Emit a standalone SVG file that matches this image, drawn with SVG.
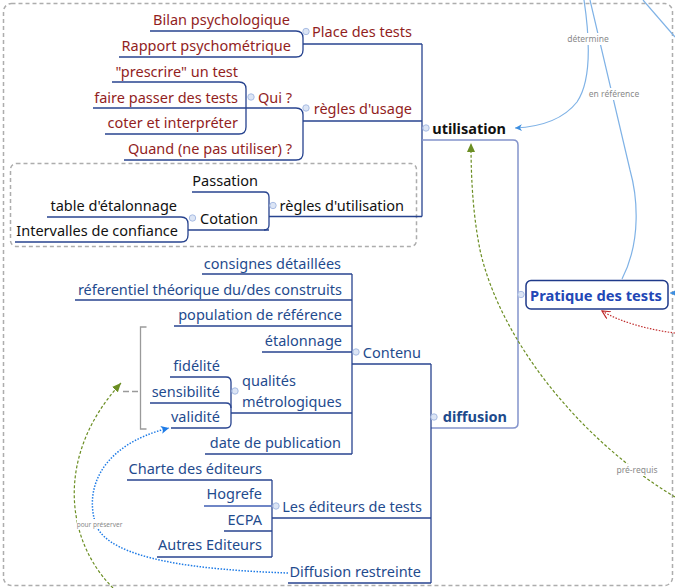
<svg xmlns="http://www.w3.org/2000/svg" width="675" height="588" viewBox="0 0 675 588">
  <style>
    .t{font-family:"Noto Sans","Open Sans",sans-serif;font-size:14.5px}
    .e{text-anchor:end}
    .red{fill:#921e1e}
    .blk{fill:#111}
    .blu{fill:#1f4b8e}
    .b{font-weight:bold}
    .ul{fill:none;stroke:#27438f;stroke-width:1.3}
    .lt{fill:none;stroke:#8494cc;stroke-width:1.5}
    .dot{fill:#dce5f5;stroke:#a9bde4;stroke-width:1}
    .lbl{font-family:"Noto Sans","Open Sans",sans-serif;font-size:8.5px;fill:#8a8a8a;text-anchor:middle}
    .rel{fill:none;stroke:#7fb2e6;stroke-width:1.2}
    .bd{fill:none;stroke:#adadad;stroke-width:1.5;stroke-dasharray:4 3}
  </style>
  <defs>
    <marker id="arrBlue" markerWidth="8" markerHeight="8" refX="7" refY="4" orient="auto" markerUnits="userSpaceOnUse">
      <path d="M0,0.5 L7,4 L0,7.5 L2,4 z" fill="#3d8ee0"/>
    </marker>
    <marker id="arrGreen" markerWidth="10" markerHeight="10" refX="9" refY="5" orient="auto" markerUnits="userSpaceOnUse">
      <path d="M0,1 L9,5 L0,9 z" fill="#6b8e23"/>
    </marker>
    <marker id="arrDot" markerWidth="9" markerHeight="9" refX="8" refY="4.5" orient="auto" markerUnits="userSpaceOnUse">
      <path d="M0,0.5 L8,4.5 L0,8.5 L2,4.5 z" fill="#1e7be6"/>
    </marker>
    <marker id="arrRed" markerWidth="9" markerHeight="9" refX="8" refY="4.5" orient="auto" markerUnits="userSpaceOnUse">
      <path d="M0,0.5 L8,4.5 L0,8.5" fill="none" stroke="#c02a2a" stroke-width="1.2"/>
    </marker>
  </defs>

  <!-- map background and boundaries -->
  <rect x="0" y="0" width="675" height="588" fill="#ffffff"/>
  <rect class="bd" x="3.5" y="3.5" width="669" height="582" rx="8" fill="#ffffff"/>
  <rect class="bd" x="10.5" y="163.5" width="406" height="83" rx="6" fill="#fbfaf5"/>

  <!-- branch connectors -->
  <g id="connectors">
    <path class="ul" d="M296,31 Q303,31 303,38 V50 Q303,57 296,57"/>
    <path class="ul" d="M422,44 V216.5"/>
    <path class="ul" d="M296,108 Q303,108 303,115 V153 Q303,160 296,160"/>
    <path class="ul" d="M239,82 Q246,82 246,89 V127 Q246,134 239,134"/>
    <path class="lt" d="M422,140 H513 Q518,140 518,145 V423 Q518,428 513,428 H431"/>
    <path class="ul" d="M264,192 Q269,192 269,197 V225 Q269,230 264,230"/>
    <path class="ul" d="M181,217 Q188,217 188,224 V235 Q188,242 181,242"/>
    <path class="ul" d="M352,274 V454"/>
    <path class="ul" d="M431,364 V583"/>
    <path class="ul" d="M226,377 Q231,377 231,382 V423 Q231,428 226,428"/>
    <path class="ul" d="M226,403 Q231,403 231,408"/>
    <path class="ul" d="M272,480 V557"/>
    <!-- summary bracket over the metrology topics -->
    <path d="M146.5,327 H140.5 V429 H146.5" fill="none" stroke="#9a9a9a" stroke-width="1.3"/>
    <path d="M123,391.5 H140" fill="none" stroke="#9a9a9a" stroke-width="1.3" stroke-dasharray="6 3"/>

    <!-- relationships -->
    <path class="rel" d="M584,0 C590,40 592,80 577,102 C562,121 537,127 515,128" marker-end="url(#arrBlue)"/>
    <path class="rel" d="M590,0 L630,170 C637,195 642,240 622,279"/>
    <path class="rel" d="M643,0 L675,37"/>
    <path class="rel" d="M675,293 L670,293" stroke="#3d8ee0" marker-end="url(#arrBlue)"/>
    <path d="M675,333 C650,330 620,322 602,311" fill="none" stroke="#c02a2a" stroke-width="1.2" stroke-dasharray="1.5 1.5" marker-end="url(#arrRed)"/>
    <path d="M675,497 C580,440 500,340 480,250 C472,210 471,170 471,143" fill="none" stroke="#6b8e23" stroke-width="1.2" stroke-dasharray="3 2" marker-end="url(#arrGreen)"/>
    <path d="M113,588 C65,540 55,455 121,383" fill="none" stroke="#6b8e23" stroke-width="1.2" stroke-dasharray="3 2" marker-end="url(#arrGreen)"/>
    <path d="M288,573 C200,570 110,560 96,525 C84,490 100,445 169,428" fill="none" stroke="#1e7be6" stroke-width="1.5" stroke-dasharray="1.5 1.5" marker-end="url(#arrDot)"/>

    <rect x="566" y="33" width="44" height="12" fill="#ffffff"/>
    <text class="lbl" x="588" y="42">détermine</text>
    <rect x="588" y="88" width="52" height="12" fill="#ffffff"/>
    <text class="lbl" x="614" y="97">en référence</text>
    <rect x="615" y="464" width="44" height="12" fill="#ffffff"/>
    <text class="lbl" x="637" y="473">pré-requis</text>
    <rect x="77" y="519" width="45" height="9" fill="#ffffff"/>
    <text class="lbl" x="99.5" y="526.5" style="font-size:6.5px">pour préserver</text>
  </g>

  <!-- central topic -->
  <g id="pratique-des-tests">
    <rect x="526" y="280.5" width="142" height="28.5" rx="5" fill="#ffffff" stroke="#1f3a8a" stroke-width="1.5"/>
    <circle class="dot" cx="521" cy="294.5" r="3.2"/>
    <text class="t b" x="596" y="301" text-anchor="middle" style="font-size:14.7px;fill:#2247b6">Pratique des tests</text>
  </g>

  <!-- utilisation branch -->
  <g id="utilisation">
    <circle class="dot" cx="426" cy="128" r="3.2"/>
    <text class="t b blk e" x="506" y="134">utilisation</text>
  </g>
  <g id="place-des-tests">
    <circle class="dot" cx="306" cy="31.5" r="3.2"/>
    <text class="t red e" x="412" y="37">Place des tests</text>
    <path class="ul" d="M303,44 H422"/>
  </g>
  <g id="bilan-psychologique">
    <text class="t red e" x="290" y="25">Bilan psychologique</text>
    <path class="ul" d="M150,31 H296"/>
  </g>
  <g id="rapport-psychometrique">
    <text class="t red e" x="291" y="51">Rapport psychométrique</text>
    <path class="ul" d="M119,57 H296"/>
  </g>
  <g id="regles-usage">
    <circle class="dot" cx="306" cy="108" r="3.2"/>
    <text class="t red e" x="412" y="114">règles d'usage</text>
    <path class="ul" d="M303,121 H422"/>
  </g>
  <g id="qui">
    <circle class="dot" cx="251" cy="97" r="3.2"/>
    <text class="t red e" x="292" y="103">Qui ?</text>
    <path class="ul" d="M246,108 H296"/>
  </g>
  <g id="prescrire">
    <text class="t red e" x="238" y="77">"prescrire" un test</text>
    <path class="ul" d="M112,82 H239"/>
  </g>
  <g id="faire-passer">
    <text class="t red e" x="238" y="103">faire passer des tests</text>
    <path class="ul" d="M93,108 H246"/>
  </g>
  <g id="coter-interpreter">
    <text class="t red e" x="238" y="128">coter et interpréter</text>
    <path class="ul" d="M105,134 H239"/>
  </g>
  <g id="quand">
    <text class="t red e" x="292" y="154">Quand (ne pas utiliser) ?</text>
    <path class="ul" d="M124,160 H296"/>
  </g>
  <g id="regles-utilisation">
    <circle class="dot" cx="273" cy="205.5" r="3.2"/>
    <text class="t blk e" x="404" y="211">règles d'utilisation</text>
    <path class="ul" d="M269,216.5 H422"/>
  </g>
  <g id="passation">
    <text class="t blk e" x="258" y="186">Passation</text>
    <path class="ul" d="M192,192 H264"/>
  </g>
  <g id="cotation">
    <circle class="dot" cx="192.5" cy="218" r="3.2"/>
    <text class="t blk e" x="258" y="224">Cotation</text>
    <path class="ul" d="M188,230 H269"/>
  </g>
  <g id="table-etalonnage">
    <text class="t blk e" x="177" y="211">table d'étalonnage</text>
    <path class="ul" d="M47,217 H181"/>
  </g>
  <g id="intervalles-confiance">
    <text class="t blk e" x="178" y="236">Intervalles de confiance</text>
    <path class="ul" d="M15,242 H181"/>
  </g>

  <!-- diffusion branch -->
  <g id="diffusion">
    <circle class="dot" cx="434" cy="417" r="3.2"/>
    <text class="t b e" x="507" y="422" style="fill:#1d4a8c">diffusion</text>
  </g>
  <g id="contenu">
    <circle class="dot" cx="356" cy="352" r="3.2"/>
    <text class="t blu e" x="421" y="358">Contenu</text>
    <path class="ul" d="M352,364 H431"/>
  </g>
  <g id="consignes">
    <text class="t blu e" x="341" y="269">consignes détaillées</text>
    <path class="ul" d="M202,274 H352"/>
  </g>
  <g id="referentiel">
    <text class="t blu e" x="342" y="295">réferentiel théorique du/des construits</text>
    <path class="ul" d="M75,300 H352"/>
  </g>
  <g id="population">
    <text class="t blu e" x="342" y="320">population de référence</text>
    <path class="ul" d="M174,326 H352"/>
  </g>
  <g id="etalonnage">
    <text class="t blu e" x="342" y="346">étalonnage</text>
    <path class="ul" d="M262,352 H352"/>
  </g>
  <g id="qualites-metrologiques">
    <circle class="dot" cx="235" cy="391" r="3.2"/>
    <text class="t blu" x="242" y="386">qualités</text>
    <text class="t blu" x="242" y="407">métrologiques</text>
    <path class="ul" d="M231,413 H352"/>
  </g>
  <g id="fidelite">
    <text class="t blu e" x="220" y="371">fidélité</text>
    <path class="ul" d="M170,377 H226"/>
  </g>
  <g id="sensibilite">
    <text class="t blu e" x="220" y="397">sensibilité</text>
    <path class="ul" d="M150,403 H226"/>
  </g>
  <g id="validite">
    <text class="t blu e" x="220" y="422">validité</text>
    <path class="ul" d="M171,428 H226"/>
  </g>
  <g id="date-publication">
    <text class="t blu e" x="341" y="448">date de publication</text>
    <path class="ul" d="M205,454 H352"/>
  </g>
  <g id="editeurs">
    <circle class="dot" cx="276" cy="506" r="3.2"/>
    <text class="t blu e" x="422" y="512">Les éditeurs de tests</text>
    <path class="ul" d="M272,518 H431"/>
  </g>
  <g id="charte">
    <text class="t blu e" x="262" y="474">Charte des éditeurs</text>
    <path class="ul" d="M127,480 H272"/>
  </g>
  <g id="hogrefe">
    <text class="t blu e" x="262" y="499">Hogrefe</text>
    <path d="M204,506 H272" fill="none" stroke="#6f86c6" stroke-width="2"/>
  </g>
  <g id="ecpa">
    <text class="t blu e" x="262" y="525">ECPA</text>
    <path class="ul" d="M224,531 H272"/>
  </g>
  <g id="autres-editeurs">
    <text class="t blu e" x="262" y="550">Autres Editeurs</text>
    <path class="ul" d="M157,557 H272"/>
  </g>
  <g id="diffusion-restreinte">
    <text class="t blu e" x="421" y="577">Diffusion restreinte</text>
    <path class="ul" d="M288,583 H431"/>
  </g>
</svg>
